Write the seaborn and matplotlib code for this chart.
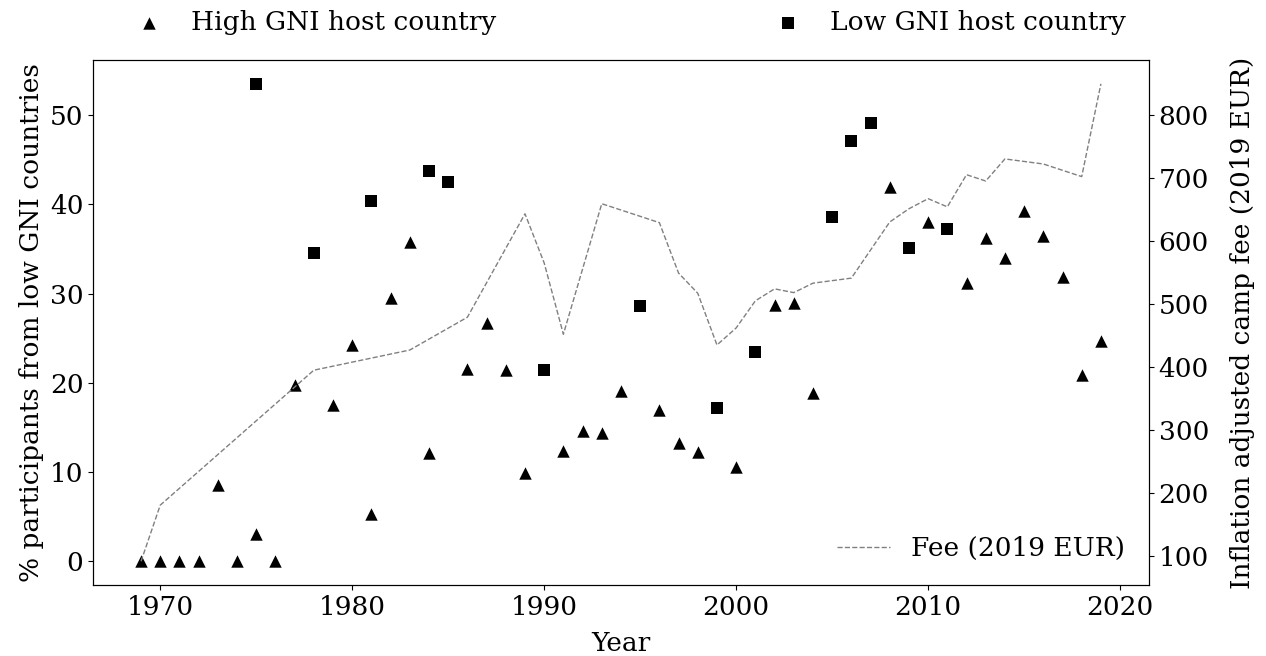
import numpy as np
import pandas as pd
import matplotlib
matplotlib.use('Agg')
import matplotlib.pyplot as plt
import seaborn as sns

# share of participants from low GNI countries, by host country type
high_years = [1969, 1970, 1971, 1972, 1973, 1974, 1975, 1976, 1977, 1979, 1980, 1981,
              1982, 1983, 1984, 1986, 1987, 1988, 1989, 1991, 1992, 1993, 1994, 1996,
              1997, 1998, 2000, 2002, 2003, 2004, 2008, 2010, 2012, 2013, 2014, 2015,
              2016, 2017, 2018, 2019]
high_pct = [0, 0, 0, 0, 8.6, 0, 3.1, 0, 19.7, 17.5, 24.2, 5.3,
            29.5, 35.8, 12.1, 21.6, 26.7, 21.4, 9.9, 12.4, 14.6, 14.4, 19.1, 17.0,
            13.3, 12.3, 10.6, 28.7, 29.0, 18.9, 41.9, 38.0, 31.2, 36.2, 34.0, 39.3,
            36.4, 31.9, 20.9, 24.7]

low_years = [1975, 1978, 1981, 1984, 1985, 1990, 1995, 1999, 2001, 2005, 2006, 2007, 2009, 2011]
low_pct = [53.5, 34.6, 40.4, 43.7, 42.5, 21.4, 28.6, 17.2, 23.4, 38.6, 47.1, 49.1, 35.1, 37.2]

# camp fee, inflation adjusted
fee_years = [1969, 1970, 1978, 1983, 1986, 1989, 1990, 1991, 1993, 1996, 1997, 1998,
             1999, 2000, 2001, 2002, 2003, 2004, 2006, 2008, 2009, 2010, 2011, 2012,
             2013, 2014, 2016, 2018, 2019]
fee_eur = [92, 181, 395, 427, 479, 643, 565, 452, 659, 629, 549, 517,
           435, 462, 505, 524, 518, 533, 541, 630, 651, 667, 654, 705,
           695, 730, 722, 702, 849]

plt.rcParams['font.family'] = ['DejaVu Serif']
plt.rcParams['font.size'] = 19

fig = plt.figure(figsize=(12.66, 6.56), dpi=100)
ax = fig.add_axes([0.0735, 0.108, 0.834, 0.8005])

high = pd.DataFrame({'Year': high_years, 'pct': high_pct})
low = pd.DataFrame({'Year': low_years, 'pct': low_pct})
sns.scatterplot(data=high, x='Year', y='pct', marker='^', color='black', s=80,
                linewidth=0, label='High GNI host country', ax=ax)
sns.scatterplot(data=low, x='Year', y='pct', marker='s', color='black', s=75,
                linewidth=0, label='Low GNI host country', ax=ax)
ax.set_xlabel('Year', labelpad=8)
ax.set_ylabel('% participants from low GNI countries')
ax.legend(loc='lower left', bbox_to_anchor=(0.0045, 1.0, 0.997, 0.1), mode='expand', ncol=2,
          frameon=False, markerscale=1.0, borderaxespad=0.55, handletextpad=0.57)

ax2 = ax.twinx()
fee = pd.DataFrame({'Year': fee_years, 'fee': fee_eur})
sns.lineplot(data=fee, x='Year', y='fee', color='gray', linestyle='--', linewidth=1,
             label='Fee (2019 EUR)', ax=ax2)
ax2.set_ylabel('Inflation adjusted camp fee (2019 EUR)', labelpad=15)
ax2.legend(loc='lower right', frameon=False)

ax.set_xticks([1970, 1980, 1990, 2000, 2010, 2020])

fig.savefig('out.png', dpi=100)
